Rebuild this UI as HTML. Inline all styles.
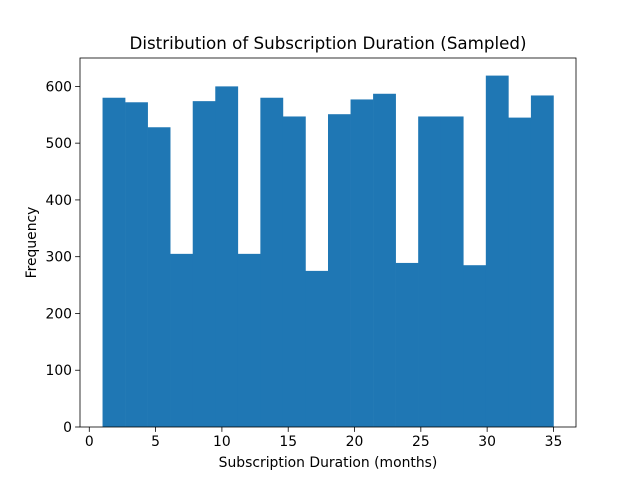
<!DOCTYPE html>
<html><head><meta charset="utf-8"><style>
body{margin:0;background:#fff;}
svg{display:block;font-family:"DejaVu Sans","Liberation Sans",sans-serif;}
</style></head><body>
<svg id="chart" width="640" height="480" viewBox="0 0 640 480"></svg>
<script>
const binStart = 1;
const binEnd = 35;
const counts = [580, 572, 528, 305, 574, 600, 305, 580, 547, 275, 551, 577, 587, 289, 547, 547, 285, 619, 545, 584];
const xTicks = [0, 5, 10, 15, 20, 25, 30, 35];
const yTicks = [0, 100, 200, 300, 400, 500, 600];

const L = 80, R = 576, T = 58, B = 427;
const xMin = -0.7, xMax = 36.7, yMax = 650;
const sx = v => L + (v - xMin) / (xMax - xMin) * (R - L);
const sy = v => B - v / yMax * (B - T);
const svg = document.getElementById('chart');
const NS = 'http://www.w3.org/2000/svg';
function mk(tag, attrs, parent) {
  const e = document.createElementNS(NS, tag);
  for (const k in attrs) e.setAttribute(k, attrs[k]);
  (parent || svg).appendChild(e);
  return e;
}
const bars = mk('g', {});


const w = (binEnd - binStart) / counts.length;
counts.forEach((c, i) => {
  const x0 = sx(binStart + i * w), x1 = sx(binStart + (i + 1) * w);
  const r = mk('rect', {x: x0, y: sy(c), width: x1 - x0 + 0.3, height: B - sy(c), fill: '#1f77b4'}, bars);
  
  
});
const frame = mk('rect', {x: L, y: T, width: R - L, height: B - T, fill: 'none', stroke: '#000', 'stroke-width': 0.8});


xTicks.forEach(t => {
  const x = sx(t);
  mk('line', {x1: x, x2: x, y1: B, y2: B + 4.9, stroke: '#000', 'stroke-width': 0.8});
  const tx = mk('text', {x: x, y: B + 19, 'font-size': 13.9, 'text-anchor': 'middle'});
  tx.textContent = t;
  
  
});
yTicks.forEach(t => {
  const y = sy(t);
  mk('line', {x1: L - 4.9, x2: L, y1: y, y2: y, stroke: '#000', 'stroke-width': 0.8});
  const tx = mk('text', {x: L - 8, y: y + 5, 'font-size': 13.9, 'text-anchor': 'end'});
  tx.textContent = t;
  
  
});
const title = mk('text', {x: (L + R) / 2, y: 49, 'font-size': 16.7, 'text-anchor': 'middle'});
title.textContent = 'Distribution of Subscription Duration (Sampled)';


const xl = mk('text', {x: (L + R) / 2, y: 467, 'font-size': 13.9, 'text-anchor': 'middle'});
xl.textContent = 'Subscription Duration (months)';


const yl = mk('text', {x: 36, y: (T + B) / 2, 'font-size': 13.9, 'text-anchor': 'middle', transform: `rotate(-90 36 ${(T + B) / 2})`});
yl.textContent = 'Frequency';


</script>
</body></html>
